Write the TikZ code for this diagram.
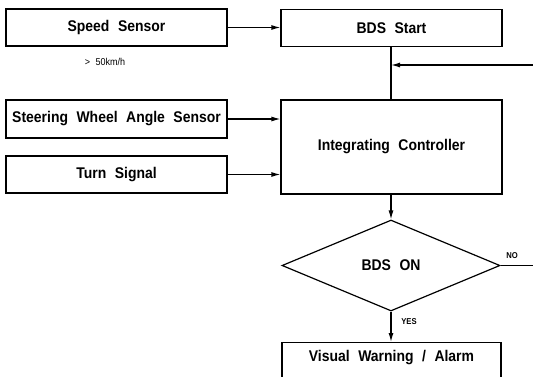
\documentclass[tikz,border=0pt]{standalone}
\usepackage{fontspec}
\setmainfont{Liberation Sans}[FakeStretch=0.9, WordSpace={2.2}]
\usetikzlibrary{shapes.geometric,arrows.meta}
\tikzset{
  lbl/.style={font=\bfseries\fontsize{15.5}{17}\selectfont},
  blk/.style={draw, line width=1.2pt, minimum width=221pt, minimum height=37pt, inner sep=0pt, lbl},
  conn/.style={line width=1.2pt},
  arr/.style={conn, -{Latex[length=9pt,width=5pt]}},
  small/.style={font=\bfseries\fontsize{8.5}{9}\selectfont, inner sep=1pt}
}
\begin{document}
\begin{tikzpicture}[x=1pt,y=-1pt]
\useasboundingbox (0,0) rectangle (533,376);
\clip (0,0) rectangle (533,376);
\node[blk] (speed) at (116.5,27.5) {Speed Sensor};
\node[blk] (bds) at (391.5,28) {BDS Start};
\node[blk, minimum height=38pt] (steer) at (116.5,119) {Steering Wheel Angle Sensor};
\node[blk] (turn) at (116.5,174.5) {Turn Signal};
\node[blk, minimum height=94pt] (ic) at (391.5,147) {Integrating Controller};
\node[draw, line width=1.2pt, diamond, minimum width=218pt, minimum height=91pt, inner sep=0pt, aspect=2.4, lbl] (dia) at (391,265.5) {BDS ON};
\node[draw, line width=1.2pt, minimum width=219pt, minimum height=44pt, inner sep=0pt, anchor=north] (vis) at (391.5,342) {};
\node[lbl] (vist) at (391.5,358) {Visual Warning / Alarm};
\node[font=\fontsize{10}{11}\selectfont, inner sep=1pt] (kmh) at (105,62) {> 50km/h};
\node[small] (no) at (512,256) {NO};
\node[small] (yes) at (409,322) {YES};
\coordinate (fb) at (534,65);
\coordinate (noend) at (dia.east -| fb);
\draw[arr] (speed.east) -- (bds.west |- speed.east);
\draw[conn] (bds.south -| dia.north) -- (ic.north -| dia.north);
\draw[arr] (fb) -- (fb -| dia.north);
\draw[arr] (steer.east) -- (ic.west |- steer.east);
\draw[arr] (turn.east) -- (ic.west |- turn.east);
\draw[arr] (ic.south -| dia.north) -- (dia.north);
\draw[conn] (dia.east) -- (noend);
\draw[arr] (dia.south) -- (vis.north -| dia.south);
\end{tikzpicture}
\end{document}
